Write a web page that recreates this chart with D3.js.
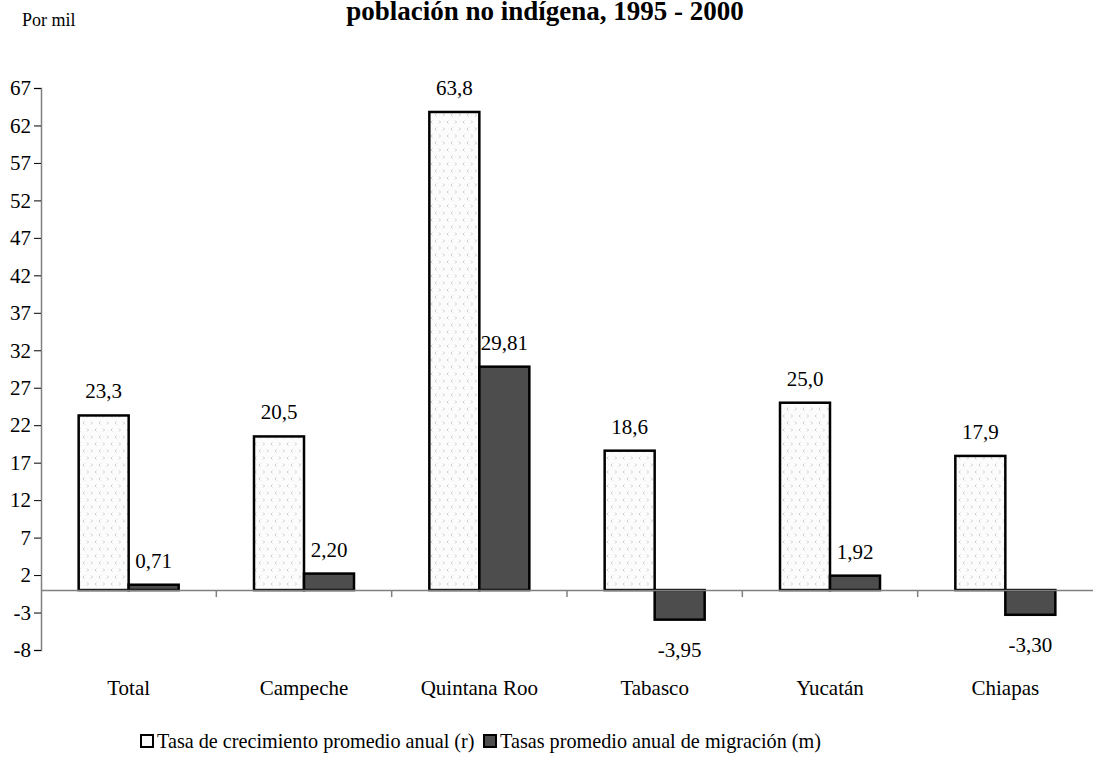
<!DOCTYPE html>
<html>
<head>
<meta charset="utf-8">
<script src="https://cdn.jsdelivr.net/npm/d3@7"></script>
<style>
  body { margin: 0; background: #fff; }
  text { font-family: "Liberation Serif", "Times New Roman", serif; }
</style>
</head>
<body>
<div id="chart"></div>
<script>
// chart data
const categories = ["Total", "Campeche", "Quintana Roo", "Tabasco", "Yucatán", "Chiapas"];
const tasaCrecimiento = [23.3, 20.5, 63.8, 18.6, 25.0, 17.9];
const tasaMigracion = [0.71, 2.20, 29.81, -3.95, 1.92, -3.30];
const crecLabels = ["23,3", "20,5", "63,8", "18,6", "25,0", "17,9"];
const migLabels = ["0,71", "2,20", "29,81", "-3,95", "1,92", "-3,30"];
const yTicks = [-8, -3, 2, 7, 12, 17, 22, 27, 32, 37, 42, 47, 52, 57, 62, 67];
const seriesNames = ["Tasa de crecimiento promedio anual (r)", "Tasas promedio anual de migración (m)"];

const W = 1093, H = 758;
const FS = "21px";
const svg = d3.select("#chart").append("svg").attr("width", W).attr("height", H);

// light chevron pattern for the growth bars
const defs = svg.append("defs");
const pat = defs.append("pattern").attr("id", "chev").attr("patternUnits", "userSpaceOnUse")
    .attr("width", 16).attr("height", 14);
pat.append("rect").attr("width", 16).attr("height", 14).attr("fill", "#fcfcfc");
[[3, 3, "<"], [11, 3, ">"], [7, 10, ">"], [15, 10, "<"], [-1, 10, "<"]].forEach(([px, py, s]) => {
    const d = s === "<" ? `M${px + 1.5},${py - 1.5} L${px},${py} L${px + 1.5},${py + 1.5}`
                        : `M${px},${py - 1.5} L${px + 1.5},${py} L${px},${py + 1.5}`;
    pat.append("path").attr("d", d).attr("fill", "none").attr("stroke", "#c8c8c8").attr("stroke-width", 0.9);
});

const x = d3.scaleBand().domain(categories).range([41, 1093]);
const y = d3.scaleLinear().domain([-8, 67]).range([650, 88]);
const barW = 50;

// title (its first line falls outside the picture)
svg.append("text").attr("x", 545).attr("y", 20).attr("text-anchor", "middle")
    .style("font-size", "27px").style("font-weight", "bold").text("población no indígena, 1995 - 2000");
svg.append("text").attr("x", 22).attr("y", 26).style("font-size", "18px").text("Por mil");

// y axis
const yAxis = svg.append("g").attr("transform", "translate(41,0)")
    .call(d3.axisLeft(y).tickValues(yTicks).tickSize(7).tickPadding(3).tickFormat((d) => String(d)));
yAxis.select(".domain").attr("stroke", "#808080").attr("stroke-width", 1.5);
yAxis.selectAll(".tick line").attr("stroke", "#000");
yAxis.selectAll(".tick text").style("font-size", FS).style("font-family", "Liberation Serif, serif").attr("fill", "#000");

// bars
svg.append("g").selectAll("rect").data(categories).enter().append("rect")
    .attr("x", (d) => x(d) + x.bandwidth() / 2 - barW)
    .attr("width", barW)
    .attr("y", (d, i) => y(Math.max(0, tasaCrecimiento[i])))
    .attr("height", (d, i) => Math.abs(y(tasaCrecimiento[i]) - y(0)))
    .attr("fill", "url(#chev)").attr("stroke", "#000").attr("stroke-width", 2.5);

svg.append("g").selectAll("rect").data(categories).enter().append("rect")
    .attr("x", (d) => x(d) + x.bandwidth() / 2)
    .attr("width", barW)
    .attr("y", (d, i) => y(Math.max(0, tasaMigracion[i])))
    .attr("height", (d, i) => Math.abs(y(tasaMigracion[i]) - y(0)))
    .attr("fill", "#4d4d4d").attr("stroke", "#000").attr("stroke-width", 2.5);

// x axis at zero
const xAxis = svg.append("g").attr("transform", `translate(0,${y(0)})`)
    .call(d3.axisBottom(x).tickSize(0).tickFormat(""));
xAxis.select(".domain").attr("stroke", "#808080").attr("stroke-width", 1.5);
// separators between categories
svg.append("g").selectAll("line").data(categories.slice(1)).enter().append("line")
    .attr("x1", (d) => x(d)).attr("x2", (d) => x(d))
    .attr("y1", y(0)).attr("y2", y(0) + 7).attr("stroke", "#808080").attr("stroke-width", 1.5);

// category labels
svg.append("g").selectAll("text").data(categories).enter().append("text")
    .attr("x", (d) => x(d) + x.bandwidth() / 2).attr("y", 695)
    .attr("text-anchor", "middle").style("font-size", FS).text((d) => d);

// value labels
svg.append("g").selectAll("text").data(categories).enter().append("text")
    .attr("x", (d) => x(d) + x.bandwidth() / 2 - barW / 2)
    .attr("y", (d, i) => y(tasaCrecimiento[i]) - 17)
    .attr("text-anchor", "middle").style("font-size", FS).text((d, i) => crecLabels[i]);
svg.append("g").selectAll("text").data(categories).enter().append("text")
    .attr("x", (d) => x(d) + x.bandwidth() / 2 + barW / 2)
    .attr("y", (d, i) => tasaMigracion[i] >= 0 ? y(tasaMigracion[i]) - 17 : y(tasaMigracion[i]) + 37)
    .attr("text-anchor", "middle").style("font-size", FS).text((d, i) => migLabels[i]);

// legend
const leg = svg.append("g").attr("transform", "translate(141,748)");
leg.append("rect").attr("x", 0).attr("y", -13).attr("width", 12).attr("height", 12)
    .attr("fill", "#fbfbfb").attr("stroke", "#000").attr("stroke-width", 2);
leg.append("text").attr("x", 16).attr("y", 0).style("font-size", "20.2px").text(seriesNames[0]);
leg.append("rect").attr("x", 343).attr("y", -13).attr("width", 12).attr("height", 12)
    .attr("fill", "#4d4d4d").attr("stroke", "#000").attr("stroke-width", 2);
leg.append("text").attr("x", 359).attr("y", 0).style("font-size", "20.2px").text(seriesNames[1]);
</script>
</body>
</html>
